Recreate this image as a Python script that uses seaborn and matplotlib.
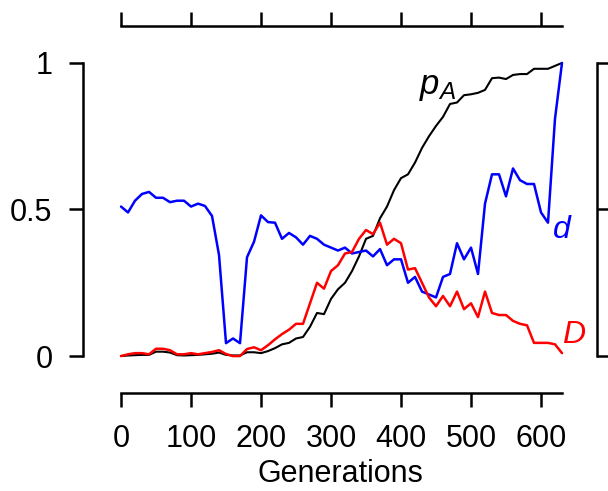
import numpy as np
import pandas as pd
import seaborn as sns
import matplotlib.pyplot as plt

generations = list(range(0, 640, 10))

p_A = [0.0, 0.002, 0.003, 0.004, 0.004, 0.015, 0.015, 0.012, 0.003, 0.002,
       0.003, 0.004, 0.006, 0.008, 0.012, 0.004, 0.002, 0.002, 0.013, 0.013,
       0.01, 0.017, 0.027, 0.04, 0.045, 0.06, 0.065, 0.10, 0.147, 0.143,
       0.195, 0.228, 0.25, 0.29, 0.34, 0.40, 0.41, 0.47, 0.51, 0.566,
       0.607, 0.62, 0.66, 0.71, 0.75, 0.785, 0.816, 0.86, 0.865, 0.89,
       0.893, 0.898, 0.908, 0.948, 0.95, 0.945, 0.959, 0.962, 0.962, 0.98,
       0.98, 0.98, 0.99, 1.0]

d = [0.51, 0.49, 0.53, 0.553, 0.56, 0.54, 0.54, 0.525, 0.53, 0.53,
     0.51, 0.52, 0.512, 0.478, 0.345, 0.044, 0.06, 0.044, 0.337, 0.39,
     0.48, 0.457, 0.455, 0.40, 0.42, 0.405, 0.38, 0.41, 0.40, 0.38,
     0.37, 0.36, 0.37, 0.35, 0.355, 0.36, 0.34, 0.365, 0.31, 0.33,
     0.33, 0.25, 0.27, 0.22, 0.21, 0.20, 0.27, 0.28, 0.385, 0.33,
     0.37, 0.28, 0.52, 0.62, 0.62, 0.545, 0.64, 0.60, 0.587, 0.587,
     0.49, 0.455, 0.81, 1.0]

D = [0.0, 0.006, 0.01, 0.01, 0.006, 0.025, 0.025, 0.02, 0.006, 0.006,
     0.01, 0.006, 0.01, 0.014, 0.02, 0.007, 0.0, 0.0, 0.024, 0.03,
     0.02, 0.037, 0.057, 0.075, 0.09, 0.11, 0.11, 0.18, 0.25, 0.23,
     0.29, 0.31, 0.35, 0.355, 0.40, 0.43, 0.416, 0.455, 0.38, 0.40,
     0.385, 0.295, 0.30, 0.25, 0.20, 0.17, 0.205, 0.17, 0.22, 0.16,
     0.18, 0.133, 0.22, 0.147, 0.14, 0.14, 0.12, 0.11, 0.105, 0.045,
     0.045, 0.045, 0.04, 0.01]

x_ticks = [0, 100, 200, 300, 400, 500, 600]
y_ticks = [0, 0.5, 1]
y_ticklabels = ["0", "0.5", "1"]

df = pd.DataFrame({"gen": generations, "p_A": p_A, "d": d, "D": D})

sns.set_style("ticks")
plt.rcParams["font.family"] = ["Liberation Sans", "DejaVu Sans"]
plt.rcParams["mathtext.fontset"] = "custom"
plt.rcParams["mathtext.rm"] = "Liberation Sans"
plt.rcParams["mathtext.it"] = "Liberation Sans:italic"
plt.rcParams["text.color"] = "black"
plt.rcParams["axes.labelcolor"] = "black"
plt.rcParams["xtick.color"] = "black"
plt.rcParams["ytick.color"] = "black"

fig = plt.figure(figsize=(6.08, 4.91), dpi=100)
ax = fig.add_axes([83 / 608, 98 / 491, 514 / 608, 367 / 491])

sns.lineplot(data=df, x="gen", y="p_A", color="black", lw=1.5, sort=False, ax=ax)
sns.lineplot(data=df, x="gen", y="d", color="#0000ff", lw=1.8, sort=False, ax=ax)
sns.lineplot(data=df, x="gen", y="D", color="#ff0000", lw=1.8, sort=False, ax=ax)

ax.text(452, 0.92, "$p_A$", color="black", fontsize=25, ha="center", va="center")
ax.text(629, 0.43, "d", color="#0000ff", fontsize=23, style="italic", ha="center", va="center")
ax.text(646, 0.072, "D", color="#ff0000", fontsize=23, style="italic", ha="center", va="center")

ax.set_xlim(-54.3, 680)
ax.set_ylim(-0.126, 1.126)

ax.set_xticks(x_ticks)
ax.set_yticks(y_ticks)
ax.set_yticklabels(y_ticklabels)
ax.set_xlabel("Generations", fontsize=22, labelpad=4, color="black")
ax.set_ylabel("")

for side in ["top", "bottom", "left", "right"]:
    ax.spines[side].set_visible(True)
    ax.spines[side].set_linewidth(1.8)
    ax.spines[side].set_color("black")
ax.spines["top"].set_bounds(0, 630)
ax.spines["bottom"].set_bounds(0, 630)
ax.spines["left"].set_bounds(0, 1)
ax.spines["right"].set_bounds(0, 1)

ax.tick_params(axis="both", direction="out", length=10, width=1.8, labelsize=22,
               color="black", labelcolor="black")
ax.tick_params(axis="x", top=True, labeltop=False, pad=12)
ax.tick_params(axis="y", right=True, labelright=False, pad=12)

fig.savefig("out.png", dpi=100)
